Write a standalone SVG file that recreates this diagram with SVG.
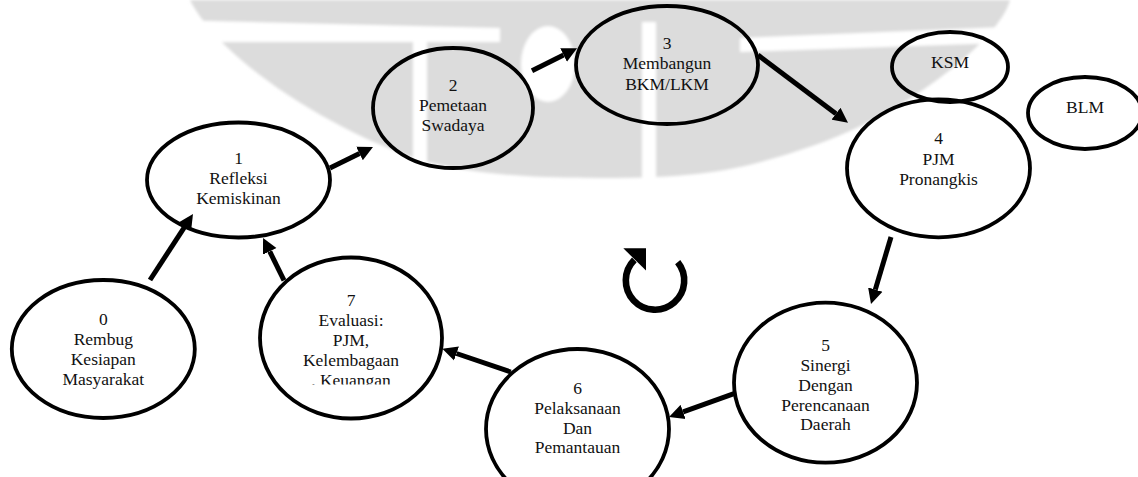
<svg xmlns="http://www.w3.org/2000/svg" width="1138" height="477" viewBox="0 0 1138 477">
  <style>
    .node ellipse { fill: none; stroke: #000; stroke-width: 3.8; }
    .node text { font-size: 17.5px; fill: #111; text-anchor: middle; }
    .edge { fill: none; stroke: #000; stroke-width: 5; stroke-linecap: butt; marker-end: url(#head); }
    .mark { fill: #dcdcdc; }
    .gap { fill: #fff; }
  </style>
  <defs>
    <marker id="head" markerUnits="userSpaceOnUse" markerWidth="16" markerHeight="16" viewBox="0 -8 16 16" refX="0" refY="0" orient="auto">
      <path d="M0,-7.5 L15,0 L0,7.5 Z" fill="#000"/>
    </marker>
    <filter id="soft" x="-5%" y="-5%" width="110%" height="110%">
      <feGaussianBlur stdDeviation="1.6"/>
    </filter>
    <clipPath id="clip7">
      <rect x="255" y="250" width="195" height="134.5"/>
    </clipPath>
  </defs>

  <rect width="1138" height="477" fill="#fff"/>

  <!-- faint background emblem -->
  <g id="emblem" filter="url(#soft)">
    <path class="mark" d="M190,0 L1010,0 C1000,40 900,120 800,150 C740,170 700,178 600,178 C500,178 460,170 420,160 C330,130 220,60 190,0 Z"/>
    <polygon class="gap" points="170,20 500,28 500,42 170,42"/>
    <polygon class="gap" points="740,38 1030,26 1030,42 740,52"/>
    <ellipse class="gap" cx="548" cy="64" rx="27" ry="38"/>
    <rect class="gap" x="642" y="22" width="14" height="156"/>
    <rect class="gap" x="413" y="40" width="14" height="125"/>
  </g>

  <!-- process steps -->
  <g font-family="Liberation Serif, Times New Roman, serif">
  <g id="n0" class="node">
    <ellipse cx="103.3" cy="349" rx="91.5" ry="69"/>
    <text x="103.3" y="325">0</text>
    <text x="103.3" y="345">Rembug</text>
    <text x="103.3" y="365">Kesiapan</text>
    <text x="103.3" y="385">Masyarakat</text>
  </g>
  <g id="n1" class="node">
    <ellipse cx="238.5" cy="180" rx="91.5" ry="57.5"/>
    <text x="238.5" y="164">1</text>
    <text x="238.5" y="184">Refleksi</text>
    <text x="238.5" y="204">Kemiskinan</text>
  </g>
  <g id="n2" class="node">
    <ellipse cx="453" cy="108" rx="80" ry="60"/>
    <text x="453" y="91">2</text>
    <text x="453" y="111">Pemetaan</text>
    <text x="453" y="131">Swadaya</text>
  </g>
  <g id="n3" class="node">
    <ellipse cx="667" cy="65" rx="91" ry="59"/>
    <text x="667" y="49">3</text>
    <text x="667" y="69">Membangun</text>
    <text x="667" y="90">BKM/LKM</text>
  </g>
  <g id="ksm" class="node">
    <ellipse cx="950" cy="67" rx="58" ry="35"/>
    <text x="950" y="68">KSM</text>
  </g>
  <g id="blm" class="node">
    <ellipse cx="1085" cy="113" rx="57" ry="36"/>
    <text x="1085" y="113">BLM</text>
  </g>
  <g id="n4" class="node">
    <ellipse cx="938.5" cy="168.3" rx="91.5" ry="69"/>
    <text x="938.5" y="144">4</text>
    <text x="938.5" y="165">PJM</text>
    <text x="938.5" y="185">Pronangkis</text>
  </g>
  <g id="n5" class="node">
    <ellipse cx="825.5" cy="382.7" rx="91.5" ry="80"/>
    <text x="825.5" y="351">5</text>
    <text x="825.5" y="371">Sinergi</text>
    <text x="825.5" y="391">Dengan</text>
    <text x="825.5" y="411">Perencanaan</text>
    <text x="825.5" y="430">Daerah</text>
  </g>
  <g id="n6" class="node">
    <ellipse cx="577.5" cy="429" rx="91.5" ry="80"/>
    <text x="577.5" y="394">6</text>
    <text x="577.5" y="414">Pelaksanaan</text>
    <text x="577.5" y="434">Dan</text>
    <text x="577.5" y="453">Pemantauan</text>
  </g>
  <g id="n7" class="node">
    <ellipse cx="351" cy="338" rx="91" ry="80.5"/>
    <g clip-path="url(#clip7)">
      <text x="351" y="306">7</text>
      <text x="351" y="326">Evaluasi:</text>
      <text x="351" y="346">PJM,</text>
      <text x="351" y="366">Kelembagaan</text>
      <text x="351" y="385.5">. Keuangan</text>
    </g>
  </g>
  </g>

  <!-- cycle symbol -->
  <g id="cycle">
    <path d="M677.7,262.1 A29.2,29.2 0 1 1 634.35,259.85" fill="none" stroke="#000" stroke-width="6.6"/>
    <polygon points="623.3,248.3 646,248.3 646,270.5" fill="#000"/>
  </g>

  <!-- connectors -->
  <g id="edges">
    <line class="edge" x1="150" y1="280" x2="184.8" y2="226.6"/>
    <line class="edge" x1="330" y1="168" x2="359.5" y2="153.6"/>
    <line class="edge" x1="532" y1="70.7" x2="563.6" y2="55"/>
    <line class="edge" x1="758" y1="55" x2="836" y2="113.7"/>
    <line class="edge" x1="891" y1="237" x2="875.3" y2="289.6"/>
    <line class="edge" x1="734" y1="393.7" x2="683.1" y2="411.9"/>
    <line class="edge" x1="510.7" y1="372" x2="456.5" y2="353.5"/>
    <line class="edge" x1="284" y1="280.3" x2="269.7" y2="251.4"/>
  </g>
</svg>
